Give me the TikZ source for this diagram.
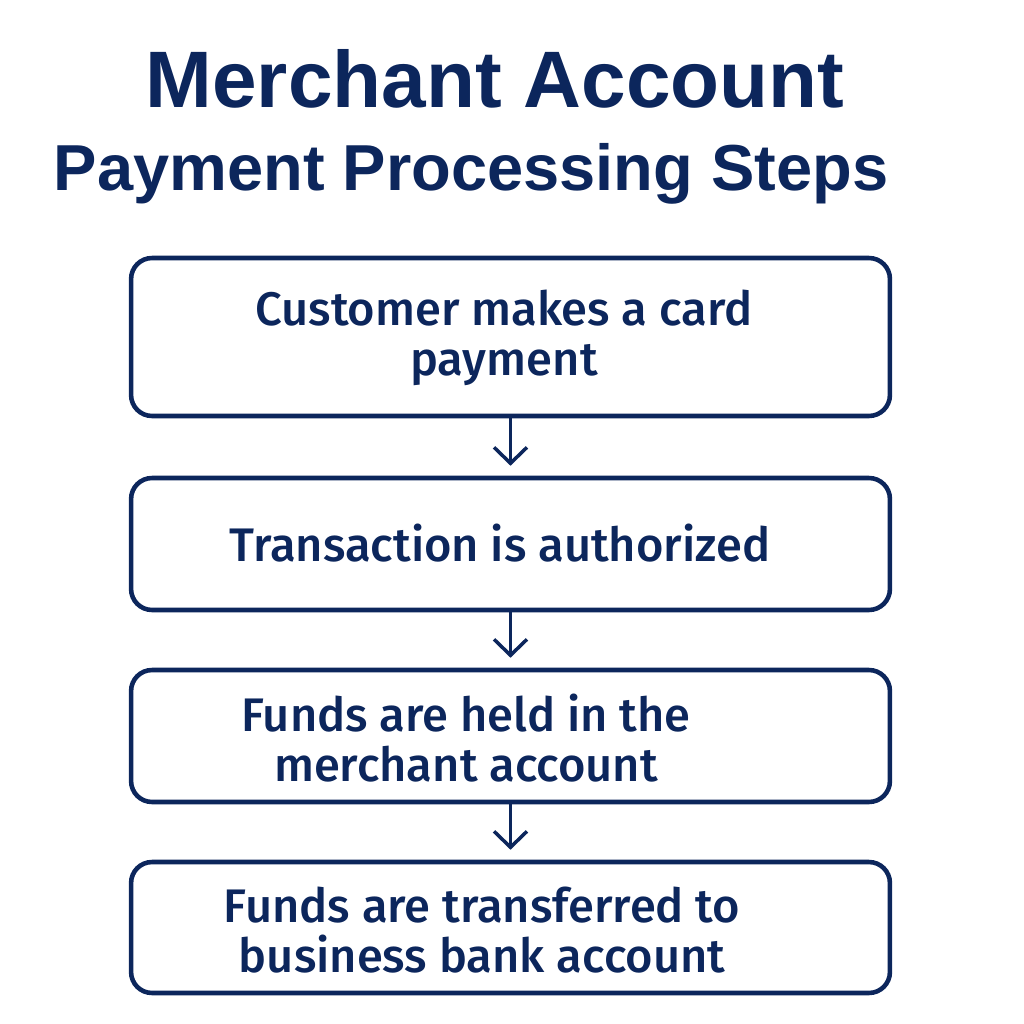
\documentclass[tikz,border=0pt]{standalone}
\usepackage{fontspec}
\setmainfont{Liberation Sans}
\newfontfamily\stepfont{Fira Sans}[UprightFont={* Medium}]
\usetikzlibrary{arrows.meta}
\definecolor{navy}{RGB}{12,38,92}
\tikzset{
	stepbox/.style={draw=navy, line width=2.6pt, rounded corners=0.42cm, minimum width=15.18cm, inner sep=0pt},
	steptext/.style={text=navy, align=center, font=\stepfont\fontsize{26.8}{28.8}\selectfont},
	flow/.style={draw=navy, line width=2pt, -{Straight Barb[length=0.32cm, width=0.66cm, line width=2pt]}, shorten >=0.2cm}
}

\begin{document}
\begin{tikzpicture}[x=0.02cm, y=-0.02cm]
		%%%%% START %%%%%
		\useasboundingbox (0, 0) rectangle (1024, 1024);
		
		\node[text=navy, font=\bfseries\fontsize{45.6}{50}\selectfont, anchor=base] (head) at (495, 108) {Merchant Account};
		\node[text=navy, font=\bfseries\fontsize{37}{42}\selectfont, anchor=base] (subhead) at (471, 190) {Payment Processing Steps};
		
		\node[stepbox, minimum height=3.16cm] (pay) at (510.5, 337) {};
		\node[stepbox, minimum height=2.64cm] (auth) at (510.5, 544) {};
		\node[stepbox, minimum height=2.64cm] (held) at (510.5, 736) {};
		\node[stepbox, minimum height=2.62cm] (move) at (510.5, 927.5) {};
		
		\node[steptext] (paytext) at (504, 338) {Customer makes a card\\payment};
		\node[steptext] (authtext) at (500, 543) {Transaction is authorized};
		\node[steptext] (heldtext) at (466, 738) {Funds are held in the\\merchant account};
		\node[steptext] (movetext) at (482, 930) {Funds are transferred to\\business bank account};
		
		\draw[flow] (pay.south) -- (auth.north);
		\draw[flow] (auth.south) -- (held.north);
		\draw[flow] (held.south) -- (move.north);
		%%%%% END %%%%%
	\end{tikzpicture}
\end{document}
